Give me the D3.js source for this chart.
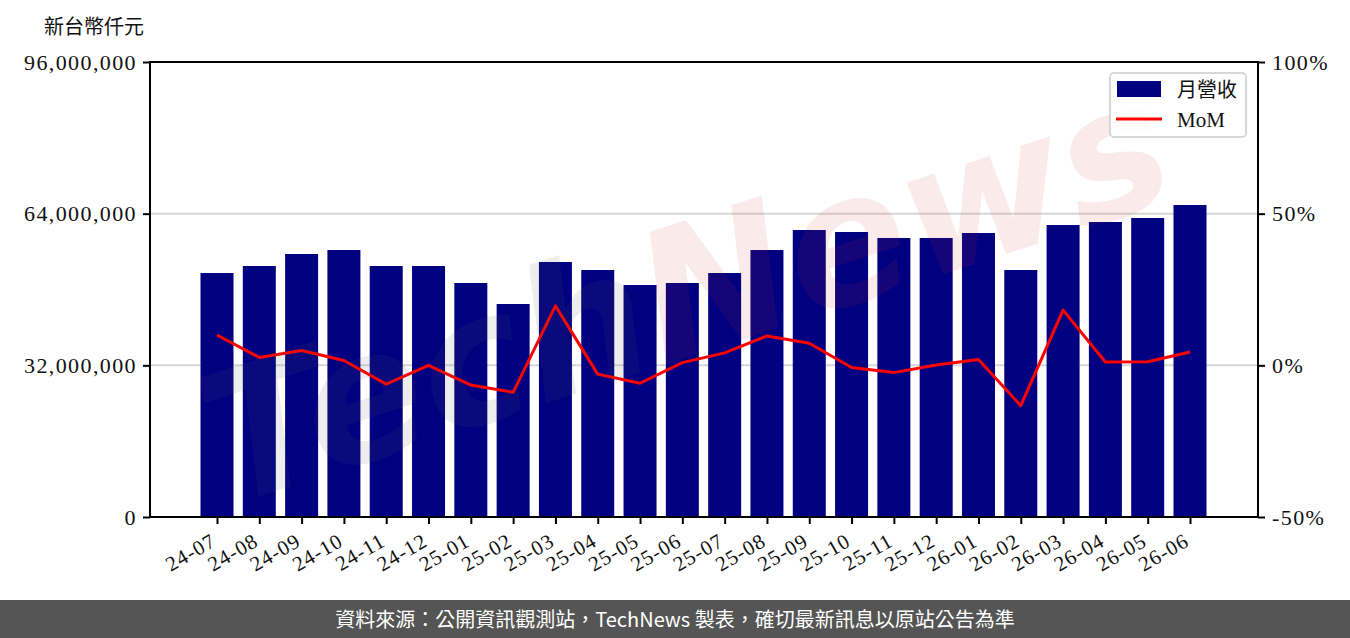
<!DOCTYPE html>
<html>
<head>
<meta charset="utf-8">
<script src="https://cdn.jsdelivr.net/npm/d3@7"></script>
<style>
  body { margin: 0; background: #fff; }
  svg { display: block; }
</style>
</head>
<body>
<svg id="chart" width="1350" height="638"></svg>
<script>
(function() {
    // monthly revenue (NT$ thousand) and month-over-month change (%)
    const months = ["24-07","24-08","24-09","24-10","24-11","24-12","25-01","25-02","25-03","25-04","25-05","25-06",
                    "25-07","25-08","25-09","25-10","25-11","25-12","26-01","26-02","26-03","26-04","26-05","26-06"];
    const revenue = [51480000, 52960000, 55490000, 56330000, 52960000, 52960000, 49370000, 44940000, 53800000, 52110000, 48950000, 49370000,
                     51480000, 56330000, 60550000, 60130000, 58870000, 58870000, 59920000, 52110000, 61610000, 62240000, 63090000, 65830000];
    const mom = [10.0, 2.6, 4.9, 1.6, -6.2, 0.0, -6.5, -8.9, 19.6, -2.9, -5.9, 0.9,
                 4.1, 9.7, 7.3, -0.7, -2.4, 0.1, 1.9, -13.3, 18.2, 1.1, 1.2, 4.4];
    const leftTicks = [0, 32000000, 64000000, 96000000];
    const rightTicks = [-50, 0, 50, 100];

    const svg = d3.select("#chart");
    const left = 150, right = 1258, top = 62, bottom = 517;
    const serif = "'Liberation Serif', 'DejaVu Serif', serif";
    const cjk = "'Noto Sans CJK TC', sans-serif";

    const x = d3.scaleLinear().domain([0, months.length - 1]).range([217, 1190]);
    const barW = 33;
    const y = d3.scaleLinear().domain([0, 96000000]).range([bottom, top]);
    const y2 = d3.scaleLinear().domain([-50, 100]).range([bottom, top]);

    // gridlines
    svg.append("g")
        .selectAll("line")
        .data([32000000, 64000000])
        .join("line")
        .attr("x1", left).attr("x2", right)
        .attr("y1", d => y(d)).attr("y2", d => y(d))
        .attr("stroke", "#d6d6d6")
        .attr("stroke-width", 2);

    // bars
    svg.append("g")
        .selectAll("rect")
        .data(revenue)
        .join("rect")
        .attr("x", (d, i) => x(i) - barW / 2)
        .attr("y", d => y(d))
        .attr("width", barW)
        .attr("height", d => bottom - y(d))
        .attr("fill", "#000080");

    // MoM line
    const line = d3.line()
        .x((d, i) => x(i))
        .y(d => y2(d));
    svg.append("path")
        .datum(mom)
        .attr("d", line)
        .attr("fill", "none")
        .attr("stroke", "#ff0000")
        .attr("stroke-width", 3)
        .attr("stroke-linejoin", "round");

    // watermark
    const wm = svg.append("text")
        .attr("transform", "translate(690,305) rotate(-18)")
        .attr("text-anchor", "middle")
        .attr("dominant-baseline", "middle")
        .attr("font-family", "'DejaVu Sans', sans-serif")
        .attr("font-style", "italic")
        .attr("font-weight", "bold")
        .attr("font-size", 180);
    wm.append("tspan").text("Tech").attr("fill", "rgba(90,90,90,0.11)");
    wm.append("tspan").text("News").attr("fill", "rgba(220,50,50,0.10)");

    // frame
    svg.append("rect")
        .attr("x", left).attr("y", top)
        .attr("width", right - left).attr("height", bottom - top)
        .attr("fill", "none")
        .attr("stroke", "#000")
        .attr("stroke-width", 2);

    // axes
    const gl = svg.append("g").attr("transform", `translate(${left},0)`)
        .call(d3.axisLeft(y).tickValues(leftTicks).tickSize(7).tickPadding(6).tickFormat(d3.format(",")));
    const gr = svg.append("g").attr("transform", `translate(${right},0)`)
        .call(d3.axisRight(y2).tickValues(rightTicks).tickSize(7).tickPadding(7).tickFormat(d => d + "%"));
    const gb = svg.append("g").attr("transform", `translate(0,${bottom})`)
        .call(d3.axisBottom(x).tickValues(d3.range(months.length)).tickSize(7).tickFormat(i => months[i]));

    [gl, gr].forEach(g => {
        g.select(".domain").remove();
        g.selectAll(".tick line").attr("stroke", "#000").attr("stroke-width", 2);
        g.selectAll("text")
            .attr("fill", "#111")
            .attr("font-family", serif)
            .attr("font-size", 22)
            .attr("letter-spacing", 1.4);
    });

    gb.select(".domain").remove();
    gb.selectAll(".tick line").attr("stroke", "#000").attr("stroke-width", 2);
    gb.selectAll("text")
        .attr("fill", "#111")
        .attr("font-family", serif)
        .attr("font-size", 21)
        .attr("letter-spacing", 1)
        .attr("text-anchor", "end")
        .attr("dy", null)
        .attr("y", 0)
        .attr("transform", "translate(0,28) rotate(-30)");

    // unit label
    svg.append("text")
        .attr("x", 94).attr("y", 34)
        .attr("text-anchor", "middle")
        .attr("font-family", cjk)
        .attr("font-size", 20)
        .attr("fill", "#111")
        .text("新台幣仟元");

    // legend
    const lg = svg.append("g");
    lg.append("rect")
        .attr("x", 1110).attr("y", 73)
        .attr("width", 136).attr("height", 64)
        .attr("rx", 4)
        .attr("fill", "rgba(255,255,255,0.85)")
        .attr("stroke", "#cccccc")
        .attr("stroke-width", 1.5);
    lg.append("rect")
        .attr("x", 1117).attr("y", 81)
        .attr("width", 44).attr("height", 16)
        .attr("fill", "#000080");
    lg.append("line")
        .attr("x1", 1116).attr("x2", 1162)
        .attr("y1", 119).attr("y2", 119)
        .attr("stroke", "#ff0000")
        .attr("stroke-width", 3);
    lg.append("text")
        .attr("x", 1177).attr("y", 97)
        .attr("font-family", cjk)
        .attr("font-size", 20)
        .attr("fill", "#111")
        .text("月營收");
    lg.append("text")
        .attr("x", 1177).attr("y", 127)
        .attr("font-family", serif)
        .attr("font-size", 21)
        .attr("fill", "#111")
        .text("MoM");

    // footer
    svg.append("rect")
        .attr("x", 0).attr("y", 600)
        .attr("width", 1350).attr("height", 38)
        .attr("fill", "#555555");
    svg.append("text")
        .attr("x", 675).attr("y", 627)
        .attr("text-anchor", "middle")
        .attr("font-family", cjk)
        .attr("font-size", 20)
        .attr("fill", "#ffffff")
        .text("資料來源：公開資訊觀測站，TechNews 製表，確切最新訊息以原站公告為準");
})();
</script>
</body>
</html>
